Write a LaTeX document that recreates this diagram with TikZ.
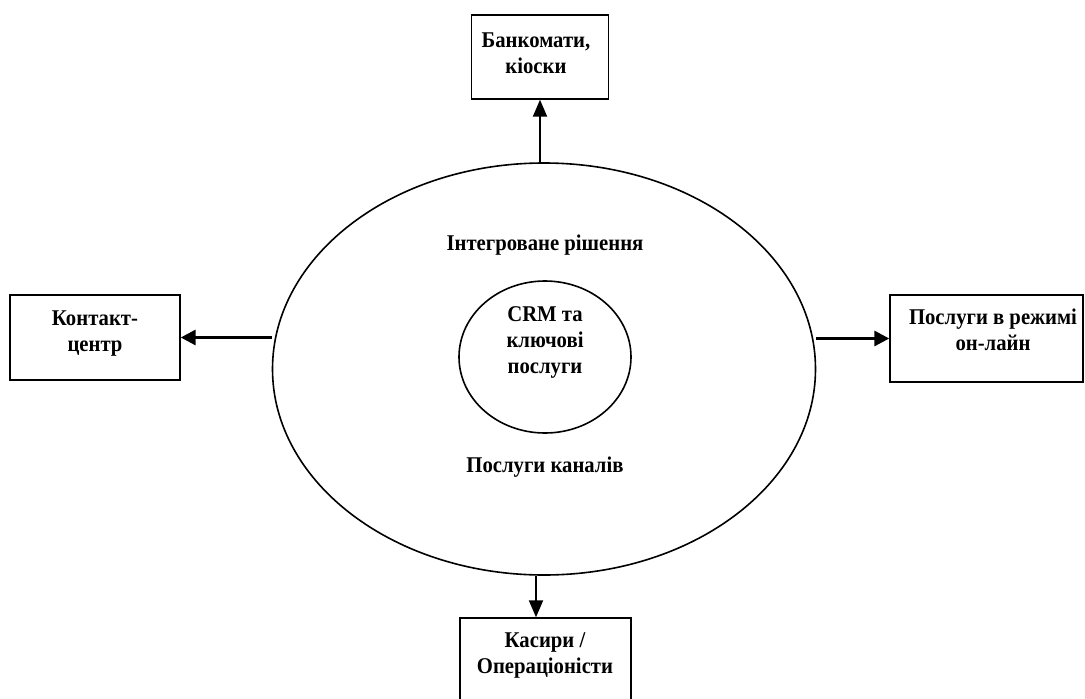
\documentclass[tikz,border=0pt]{standalone}
\usepackage{fontspec}
\setmainfont[FakeStretch=0.92]{Liberation Serif}
\usetikzlibrary{shapes.geometric,arrows.meta}
\begin{document}
\begin{tikzpicture}[x=1pt,y=-1pt,
  lbl/.style={font=\fontsize{22.5}{26}\selectfont\bfseries, align=center, inner sep=0pt},
  box/.style={draw, line width=1.4pt, inner sep=0pt},
  ell/.style={draw, ellipse, line width=1.6pt, inner sep=0pt},
  conn/.style={line width=2pt, -{Triangle[length=17pt,width=14pt]}},
  thick conn/.style={line width=3pt, -{Triangle[length=15pt,width=15pt]}}
]
\useasboundingbox (0,0) rectangle (1085,699);
\node[ell, minimum width=543pt, minimum height=412pt] (E) at (544,369) {};
\node[ell, minimum width=172pt, minimum height=152pt] (C) at (545,357) {};
\node[lbl] (Ct) at (545,342) {CRM та\\ключові\\послуги};
\node[lbl] (I) at (545,245) {Інтегроване рішення};
\node[lbl] (P) at (545,467) {Послуги каналів};

\node[box, minimum width=137pt, minimum height=84pt] (T) at (540,57) {};
\node[lbl] (Tt) at (536,53) {Банкомати,\\кіоски};

\node[box, minimum width=170pt, minimum height=85pt] (L) at (95,337.5) {};
\node[lbl] (Lt) at (95,334) {Контакт-\\центр};

\node[box, minimum width=193pt, minimum height=87pt] (R) at (986.5,338.5) {};
\node[lbl] (Rt) at (993,330) {Послуги в режимі\\он-лайн};

\node[box, minimum width=171pt, minimum height=120pt] (B) at (545.5,678) {};
\node[lbl] (Bt) at (545,655) {Касири /\\Операціоністи};

\draw[conn] (T.south |- E.north) -- (T.south);
\draw[conn] (E.south -| 536,0) -- (B.north -| 536,0);
\draw[thick conn] (E.west |- L.east) -- (L.east);
\draw[thick conn] (E.east |- R.west) -- (R.west);
\end{tikzpicture}
\end{document}
